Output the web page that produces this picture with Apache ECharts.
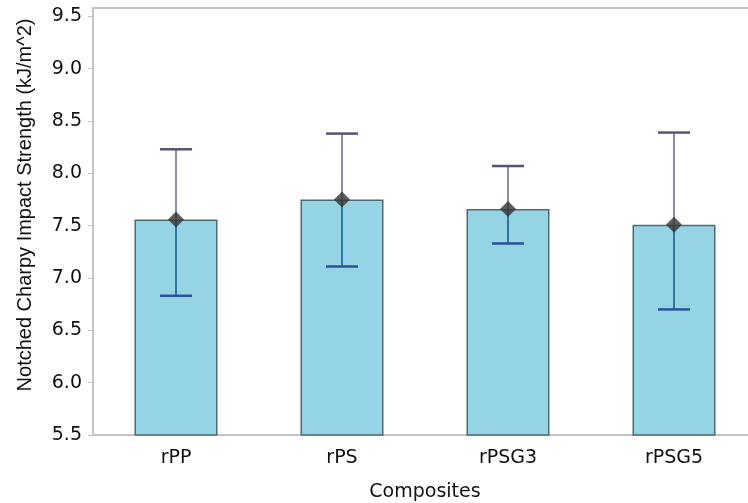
<!DOCTYPE html>
<html>
<head>
<meta charset="utf-8">
<script src="https://cdn.jsdelivr.net/npm/echarts@6/dist/echarts.min.js"></script>
<style>html,body{margin:0;padding:0;background:#fff}#c{width:748px;height:503px}</style>
</head>
<body>
<div id="c"></div>
<script>
const categories = ['rPP', 'rPS', 'rPSG3', 'rPSG5'];
const meanValues = [7.56, 7.75, 7.66, 7.51];
const upperValues = [8.23, 8.38, 8.07, 8.39];
const lowerValues = [6.83, 7.11, 7.33, 6.70];
const yTicks = [5.5, 6.0, 6.5, 7.0, 7.5, 8.0, 8.5, 9.0, 9.5];

const axisGray = '#c4c4c4';
const labelFont = 'DejaVu Sans';
const textColor = '#111';

const chart = echarts.init(document.getElementById('c'));
chart.setOption({
  animation: false,
  backgroundColor: '#ffffff',
  grid: { left: 93, width: 664, top: 8, bottom: 68, containLabel: false, outerBoundsMode: 'none' },
  xAxis: [{
    type: 'category',
    data: categories,
    name: 'Composites',
    nameLocation: 'middle',
    nameGap: 48,
    nameTextStyle: { fontFamily: labelFont, fontSize: 19, color: textColor },
    axisLine: { lineStyle: { color: axisGray, width: 2 } },
    axisTick: { alignWithLabel: true, length: 3, lineStyle: { color: axisGray } },
    axisLabel: { fontFamily: labelFont, fontSize: 19, color: textColor, margin: 14 }
  }, {
    type: 'category',
    data: categories,
    position: 'top',
    axisLine: { show: true, lineStyle: { color: axisGray, width: 2 } },
    axisTick: { show: false },
    axisLabel: { show: false }
  }],
  yAxis: {
    type: 'value',
    min: 5.5,
    max: 9.58,
    splitLine: { show: false },
    axisLine: { show: true, lineStyle: { color: axisGray, width: 2 } },
    axisTick: { show: true, length: 5, lineStyle: { color: axisGray }, customValues: yTicks },
    axisLabel: {
      fontFamily: labelFont, fontSize: 19, color: textColor, margin: 11,
      customValues: yTicks,
      formatter: v => v.toFixed(1)
    }
  },
  graphic: [{
    type: 'text',
    x: 25, y: 205,
    rotation: Math.PI / 2,
    style: {
      text: 'Notched Charpy Impact Strength (kJ/m^2)',
      fontFamily: 'Liberation Sans', fontSize: 20, fill: textColor,
      textAlign: 'center', textVerticalAlign: 'middle'
    }
  }],
  series: [{
    type: 'bar',
    data: meanValues,
    barWidth: '50%',
    itemStyle: { color: '#94d4e5', borderColor: '#4f6a72', borderWidth: 1.5 },
    z: 2
  }, {
    type: 'custom',
    data: categories.map((c, i) => [i, meanValues[i], lowerValues[i], upperValues[i]]),
    encode: { x: 0, y: [1, 2, 3] },
    z: 3,
    renderItem: function (params, api) {
      const x = api.value(0);
      const m = api.coord([x, api.value(1)]);
      const lo = api.coord([x, api.value(2)]);
      const hi = api.coord([x, api.value(3)]);
      const hw = 16;
      return {
        type: 'group',
        children: [
          { type: 'line', shape: { x1: m[0], y1: m[1], x2: hi[0], y2: hi[1] }, style: { stroke: '#8c8ca8', lineWidth: 2 } },
          { type: 'line', shape: { x1: m[0], y1: m[1], x2: lo[0], y2: lo[1] }, style: { stroke: '#2b79a0', lineWidth: 2 } },
          { type: 'line', shape: { x1: hi[0] - hw, y1: hi[1], x2: hi[0] + hw, y2: hi[1] }, style: { stroke: '#545478', lineWidth: 2.5 } },
          { type: 'line', shape: { x1: lo[0] - hw, y1: lo[1], x2: lo[0] + hw, y2: lo[1] }, style: { stroke: '#2f4f9a', lineWidth: 2.5 } }
        ]
      };
    }
  }, {
    type: 'scatter',
    data: meanValues,
    symbol: 'diamond',
    symbolSize: 16,
    itemStyle: { color: '#333333' },
    z: 4
  }]
});
</script>
</body>
</html>
